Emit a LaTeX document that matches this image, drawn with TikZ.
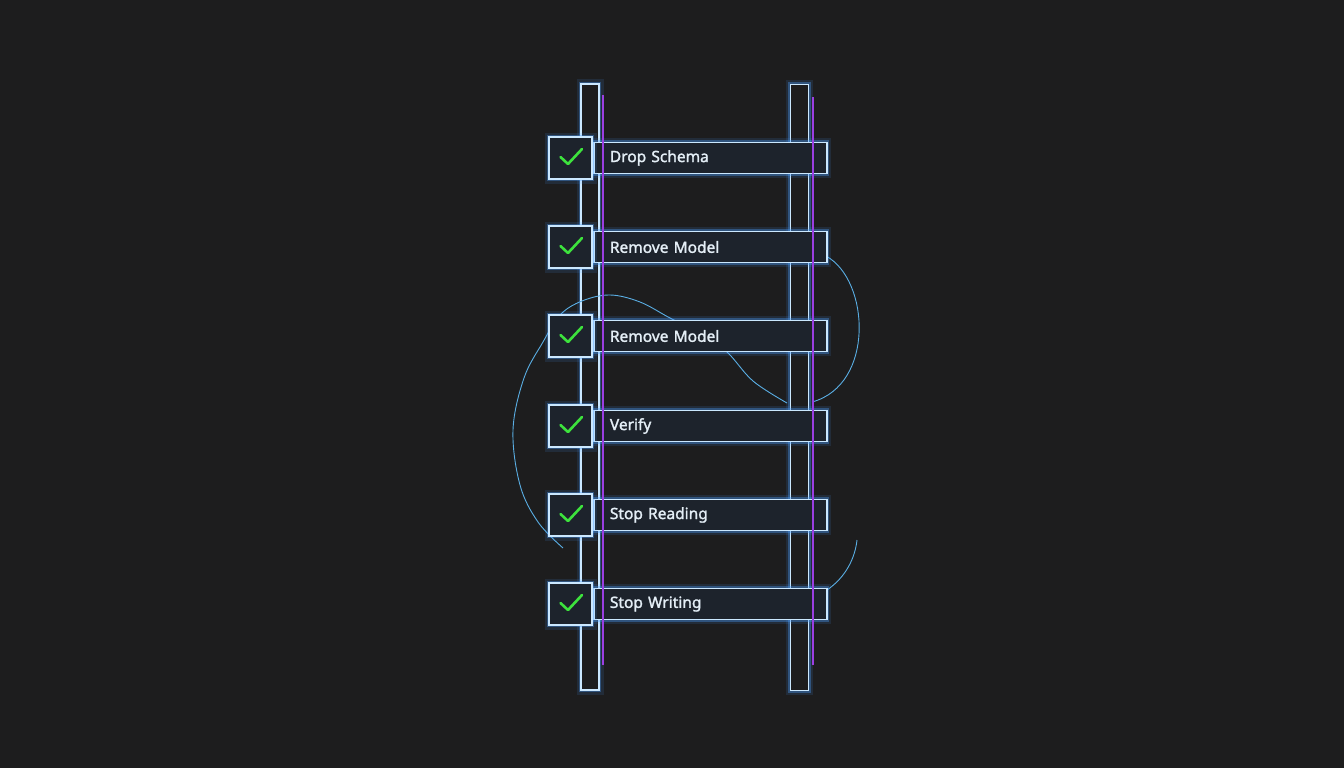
\documentclass[tikz,border=0pt]{standalone}
\usepackage{fontspec}
\setmainfont{Noto Sans}[BoldFont={Noto Sans}, BoldFeatures={FakeBold=1.6}]
\usepackage{tikz}
\usetikzlibrary{positioning,calc}
\definecolor{ladderbg}{HTML}{1D1D1E}
\definecolor{ladderedge}{HTML}{CBE8FF}
\definecolor{ladderglow}{HTML}{4C9FFF}
\definecolor{rungfill}{HTML}{1D232C}
\definecolor{rungtext}{HTML}{E4EEF6}
\definecolor{tickgreen}{HTML}{3DE23D}
\definecolor{railpurple}{HTML}{9A3FE2}
\definecolor{swirlblue}{HTML}{5AAEE4}

\begin{document}
\begin{tikzpicture}[x=1pt, y=-1pt,
    glowing/.style={preaction={draw=ladderglow, line width=9pt, opacity=0.12},
                    preaction={draw=ladderglow, line width=4.5pt, opacity=0.35}},
    rail/.style={draw=ladderedge, fill=ladderbg, line width=1.8pt, glowing, inner sep=0pt, minimum width=18pt, minimum height=606pt},
    rung/.style={draw=ladderedge, fill=rungfill, line width=1.8pt, glowing, anchor=west, inner xsep=16pt, inner ysep=0pt, text width=201pt, minimum height=31pt, align=left, font=\fontsize{15.5}{18}\selectfont\bfseries, text=rungtext},
    chk/.style={draw=ladderedge, fill=rungfill, line width=1.8pt, glowing, inner sep=0pt, minimum width=43pt, minimum height=42pt},
    tick/.style={draw=tickgreen, line width=2.6pt, line cap=round, line join=round},
    purpleline/.style={draw=railpurple, line width=1.4pt},
    swirl/.style={draw=swirlblue, line width=0.9pt}
]
    % background and frame
    \fill[ladderbg] (0,0) rectangle (1344,768);
    \useasboundingbox (0,0) rectangle (1344,768);

    % Rails
    \node[rail] (railL) at (590,387) {};
    \node[rail] (railR) at (799.5,387.5) {};

    % Swirls behind the rungs
    \coordinate (swA) at (826,256);
    \coordinate (swB) at (812,402);
    \draw[swirl] (swA) .. controls (870,280) and (875,385) .. (swB);
    \draw[swirl] plot[smooth, tension=0.6] coordinates {(787,403) (753,381) (727,352) (700,333) (670,318) (640,302) (610,295) (582,301) (560,315) (543,342) (524,378) (513,430) (520,485) (538,522) (563,548)};
    \coordinate (swC) at (827,590);
    \coordinate (swD) at (857,540);
    \draw[swirl] (swC) .. controls (846,577) and (855,558) .. (swD);

    % Rungs
    \node[rung] (r1) at (593,158) {Drop Schema};
    \node[rung] (r2) at (593,247) {Remove Model};
    \node[rung] (r3) at (593,336) {Remove Model};
    \node[rung] (r4) at (593,426) {Verify};
    \node[rung] (r5) at (593,515) {Stop Reading};
    \node[rung] (r6) at (593,604) {Stop Writing};

    % Purple inner lines
    \coordinate (pL1) at (603,95);
    \coordinate (pL2) at (603,665);
    \coordinate (pR1) at (813,97);
    \coordinate (pR2) at (813,665);
    \draw[purpleline] (pL1) -- (pL2);
    \draw[purpleline] (pR1) -- (pR2);

    % Check boxes
    \node[chk] (c1) at (570.5,158) {};
    \node[chk] (c2) at (570.5,247) {};
    \node[chk] (c3) at (570.5,336) {};
    \node[chk] (c4) at (570.5,426) {};
    \node[chk] (c5) at (570.5,515) {};
    \node[chk] (c6) at (570.5,604) {};

    % Ticks
    \draw[tick] (c1.center) ++(-10,-1) -- ++(7.5,7) -- ++(14,-15);
    \draw[tick] (c2.center) ++(-10,-1) -- ++(7.5,7) -- ++(14,-15);
    \draw[tick] (c3.center) ++(-10,-1) -- ++(7.5,7) -- ++(14,-15);
    \draw[tick] (c4.center) ++(-10,-1) -- ++(7.5,7) -- ++(14,-15);
    \draw[tick] (c5.center) ++(-10,-1) -- ++(7.5,7) -- ++(14,-15);
    \draw[tick] (c6.center) ++(-10,-1) -- ++(7.5,7) -- ++(14,-15);

\end{tikzpicture}
\end{document}
